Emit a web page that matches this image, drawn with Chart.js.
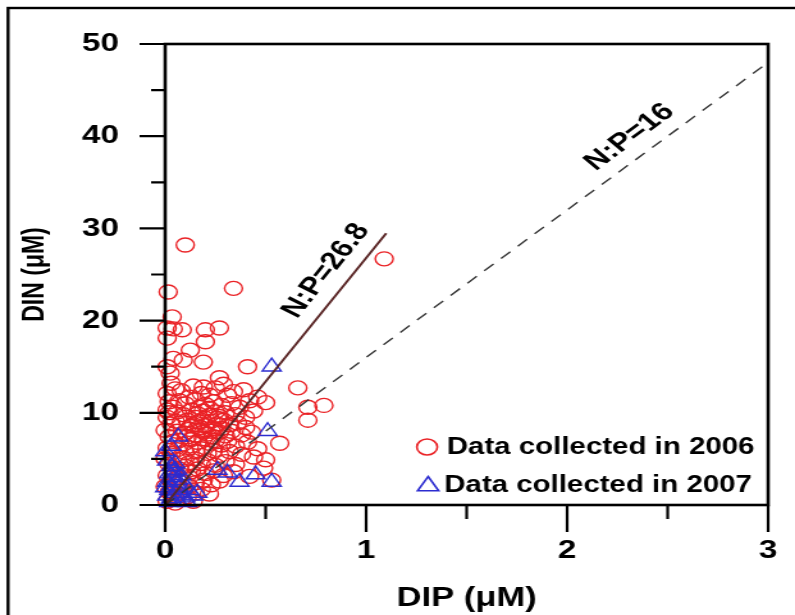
<!DOCTYPE html>
<html><head><meta charset="utf-8">
<script src="https://cdn.jsdelivr.net/npm/chart.js@4.4.1/dist/chart.umd.min.js"></script>
<style>html,body{margin:0;padding:0;background:#fff;overflow:hidden}canvas{display:block}</style>
</head><body>
<canvas id="c" width="621" height="615" style="width:795px;height:615px"></canvas>
<script>
// ---- data ----
const xTicks = [0, 1, 2, 3];
const xMinorTicks = [0.5, 1.5, 2.5];
const yTicks = [0, 10, 20, 30, 40, 50];
const yMinorTicks = [5, 15, 25, 35, 45];
const xTitle = 'DIP (\u03bcM)';
const yTitle = 'DIN (\u03bcM)';
const label2006 = 'Data collected in 2006';
const label2007 = 'Data collected in 2007';
const ratioHigh = 26.8, ratioHighEndX = 1.1, ratioHighLabel = 'N:P=26.8';
const ratioLow = 16, ratioLowEndX = 3, ratioLowLabel = 'N:P=16';

const data2006 = [
[0.10,28.2],[0.015,23.1],[0.34,23.5],[1.09,26.7],
[0.035,20.4],[0.01,19.2],[0.04,19.1],[0.085,19.0],[0.01,18.1],[0.2,19.0],[0.27,19.2],[0.2,17.7],
[0.125,16.8],[0.04,15.9],[0.09,15.7],[0.19,15.5],[0.01,15.0],[0.025,14.3],[0.41,15.0],[0.27,13.8],
[0.19,12.8],[0.66,12.7],[0.01,10.3],[0.04,10.6],[0.12,11.7],[0.18,12.1],[0.22,11.9],[0.31,11.9],
[0.39,12.5],[0.46,11.7],[0.5,11.1],[0.71,10.6],[0.79,10.8],[0.71,9.2],[0.57,6.7],[0.5,4.9],[0.53,2.7],
[0.01,12.1],[0.02,11.2],[0.01,9.5],[0.03,8.8],[0.0,8.1],[0.02,7.4],[0.04,6.9],[0.01,6.2],[0.03,5.6],
[0.0,5.0],[0.02,4.4],[0.04,3.9],[0.01,3.2],[0.03,2.6],[0.0,2.0],[0.02,1.4],[0.04,0.9],[0.01,0.4],
[0.05,0.2],[0.03,13.2],[0.05,12.6],[0.02,10.0],
[0.08,12.4],[0.14,12.9],[0.25,12.7],[0.29,13.1],[0.34,12.3],
[0.07,11.3],[0.1,11.0],[0.15,11.4],[0.2,10.9],[0.24,11.2],[0.28,10.8],[0.33,11.0],[0.37,10.6],[0.42,11.3],
[0.06,10.1],[0.09,9.8],[0.13,10.3],[0.16,9.9],[0.19,10.2],[0.22,9.7],[0.25,10.1],[0.27,9.6],[0.3,10.0],[0.35,9.8],[0.4,9.5],[0.44,10.2],
[0.05,9.1],[0.08,8.9],[0.11,9.2],[0.14,8.7],[0.17,9.0],[0.2,8.6],[0.23,9.1],[0.26,8.8],[0.29,9.2],[0.32,8.7],[0.36,8.9],[0.4,8.4],
[0.06,8.0],[0.1,7.8],[0.12,8.2],[0.15,7.6],[0.18,8.1],[0.21,7.7],[0.24,8.3],[0.27,7.9],[0.3,7.5],[0.33,8.0],[0.38,7.6],[0.43,7.9],
[0.07,7.0],[0.09,6.6],[0.13,7.1],[0.16,6.8],[0.19,7.2],[0.22,6.7],[0.25,7.0],[0.28,6.5],[0.31,6.9],[0.35,6.4],[0.41,6.8],
[0.06,6.0],[0.1,5.7],[0.12,6.2],[0.15,5.8],[0.18,6.1],[0.21,5.6],[0.24,5.9],[0.27,5.4],[0.32,5.8],[0.38,5.5],
[0.06,4.9],[0.09,5.1],[0.12,4.6],[0.15,5.0],[0.18,4.5],[0.21,4.8],[0.25,4.3],[0.3,4.7],[0.35,4.4],[0.44,5.2],
[0.07,3.9],[0.1,4.2],[0.13,3.6],[0.16,3.9],[0.2,3.4],[0.24,3.7],[0.29,3.2],[0.34,3.6],
[0.06,2.9],[0.09,2.5],[0.12,3.0],[0.15,2.4],[0.19,2.7],[0.23,2.2],[0.27,2.6],
[0.06,1.8],[0.09,1.5],[0.12,2.0],[0.15,1.3],[0.18,1.7],[0.22,1.2],
[0.05,1.0],[0.08,0.6],[0.11,0.9],[0.14,0.4],
[0.17,8.4],[0.2,9.4],[0.23,8.0],[0.15,9.5],[0.26,9.4],[0.19,7.9],[0.22,10.5],[0.13,8.6],[0.28,8.3],[0.11,7.4],[0.17,10.6],[0.24,7.4],
[0.46,6.1],[0.49,4.0],[0.42,3.1]
];
const data2007 = [
[0.53,15.0],[0.51,8.0],[0.26,3.8],[0.31,3.5],[0.37,2.5],[0.45,3.3],[0.53,2.5],[0.16,1.3],[0.065,7.4],[0.03,6.4],[0.0,5.8],
[0.01,4.8],[0.03,4.2],[0.05,3.8],[0.02,3.4],[0.04,3.0],[0.06,2.7],[0.01,2.5],[0.03,2.1],[0.07,1.9],[0.02,1.6],[0.05,1.3],
[0.08,1.1],[0.01,1.0],[0.03,0.7],[0.06,0.5],[0.1,0.8],[0.12,1.6],[0.09,2.4],[0.04,3.6],[0.02,0.3],[0.05,4.5],[0.08,3.2],
[0.0,1.9],[0.11,0.3],[0.14,1.0]
];

// ---- chart ----
const FONT = '"Liberation Sans", Arial, Helvetica, sans-serif';
const RED = '#ea2226', BLUE = '#2c2cd0';
const toPts = a => a.map(p => ({x: p[0], y: p[1]}));

const decor = {
  id: 'decor',
  afterDraw(chart) {
    const ctx = chart.ctx, a = chart.chartArea, xs = chart.scales.x, ys = chart.scales.y;
    ctx.save();
    ctx.strokeStyle = '#000';
    // outer frame
    ctx.lineWidth = 2.4;
    ctx.strokeRect(6.3, 8, 700, 700);
    // plot frame
    ctx.lineWidth = 2.6;
    ctx.strokeRect(a.left, a.top, a.right - a.left, a.bottom - a.top);
    // ticks
    ctx.lineWidth = 2.2;
    ctx.beginPath();
    xTicks.forEach(v => { const p = xs.getPixelForValue(v); ctx.moveTo(p, a.bottom); ctx.lineTo(p, a.bottom + 27); });
    xMinorTicks.forEach(v => { const p = xs.getPixelForValue(v); ctx.moveTo(p, a.bottom); ctx.lineTo(p, a.bottom + 14); });
    yTicks.forEach(v => { const p = ys.getPixelForValue(v); ctx.moveTo(a.left, p); ctx.lineTo(a.left - 20, p); });
    yMinorTicks.forEach(v => { const p = ys.getPixelForValue(v); ctx.moveTo(a.left, p); ctx.lineTo(a.left - 11, p); });
    ctx.stroke();
    // ratio labels
    ctx.fillStyle = '#000';
    ctx.font = 'bold 25px ' + FONT;
    ctx.textAlign = 'center';
    ctx.textBaseline = 'middle';
    const lab = (txt, ratio, lx, ly) => {
      const ang = Math.atan2(ys.getPixelForValue(ratio) - ys.getPixelForValue(0), xs.getPixelForValue(1) - xs.getPixelForValue(0));
      ctx.save();
      ctx.translate(xs.getPixelForValue(lx), ys.getPixelForValue(ly));
      ctx.rotate(ang);
      ctx.fillText(txt, 0, 0);
      ctx.restore();
    };
    lab(ratioHighLabel, ratioHigh, 0.80, 25.4);
    lab(ratioLowLabel, ratioLow, 2.31, 39.9);
    // legend
    ctx.font = 'bold 23px ' + FONT;
    ctx.textAlign = 'left';
    ctx.lineWidth = 1.6;
    ctx.strokeStyle = RED;
    ctx.beginPath(); ctx.arc(333.6, 447, 8, 0, Math.PI * 2); ctx.stroke();
    ctx.fillText(chart.data.datasets[3].label, 349, 448);
    ctx.strokeStyle = BLUE;
    const r = 9.5, tx = 334.4, ty = 486;
    ctx.beginPath();
    ctx.moveTo(tx, ty - r); ctx.lineTo(tx + r * 0.866, ty + r * 0.5); ctx.lineTo(tx - r * 0.866, ty + r * 0.5); ctx.closePath();
    ctx.stroke();
    ctx.fillText(chart.data.datasets[2].label, 347, 486);
    ctx.restore();
  }
};

new Chart(document.getElementById('c'), {
  type: 'scatter',
  data: {
    datasets: [
      {type: 'line', label: ratioHighLabel, data: [{x: 0, y: 0}, {x: ratioHighEndX, y: ratioHigh * ratioHighEndX}],
       borderColor: '#5a2626', borderWidth: 2, pointRadius: 0, order: 0},
      {type: 'line', label: ratioLowLabel, data: [{x: 0, y: 0}, {x: ratioLowEndX, y: ratioLow * ratioLowEndX}],
       borderColor: '#333', borderWidth: 1.4, borderDash: [10, 8], pointRadius: 0, order: 0},
      {label: label2007, data: toPts(data2007), pointStyle: 'triangle', pointRadius: 8.5, borderColor: BLUE,
       backgroundColor: 'rgba(0,0,0,0)', borderWidth: 1.4, clip: false, order: 1},
      {label: label2006, data: toPts(data2006), pointStyle: 'circle', pointRadius: 7, borderColor: RED,
       backgroundColor: 'rgba(0,0,0,0)', borderWidth: 1.4, clip: false, order: 2}
    ]
  },
  options: {
    responsive: false, animation: false, devicePixelRatio: 1,
    layout: {padding: {left: 0, top: 44, right: 21, bottom: 0}},
    plugins: {legend: {display: false}, tooltip: {enabled: false}},
    scales: {
      x: {
        type: 'linear', min: 0, max: 3,
        afterBuildTicks: s => { s.ticks = xTicks.map(v => ({value: v})); },
        afterFit: s => { s.height = 110; },
        grid: {display: false, drawTicks: true, tickLength: 30}, border: {display: false},
        ticks: {padding: 0, color: '#000', autoSkip: false, maxRotation: 0, font: {family: FONT, size: 26, weight: 'bold'}},
        title: {display: true, text: xTitle, color: '#000', padding: {top: 0, bottom: 0}, font: {family: FONT, size: 27, weight: 'bold'}}
      },
      y: {
        type: 'linear', min: 0, max: 50,
        afterBuildTicks: s => { s.ticks = yTicks.map(v => ({value: v})); },
        afterFit: s => { s.width = 129; },
        grid: {display: false, drawTicks: true, tickLength: 36}, border: {display: false},
        ticks: {padding: 0, color: '#000', autoSkip: false, font: {family: FONT, size: 26, weight: 'bold'}},
        title: {display: true, text: yTitle, color: '#000', padding: {top: 14, bottom: 0}, font: {family: FONT, size: 23, weight: 'bold'}}
      }
    }
  },
  plugins: [decor]
});
</script>
</body></html>
